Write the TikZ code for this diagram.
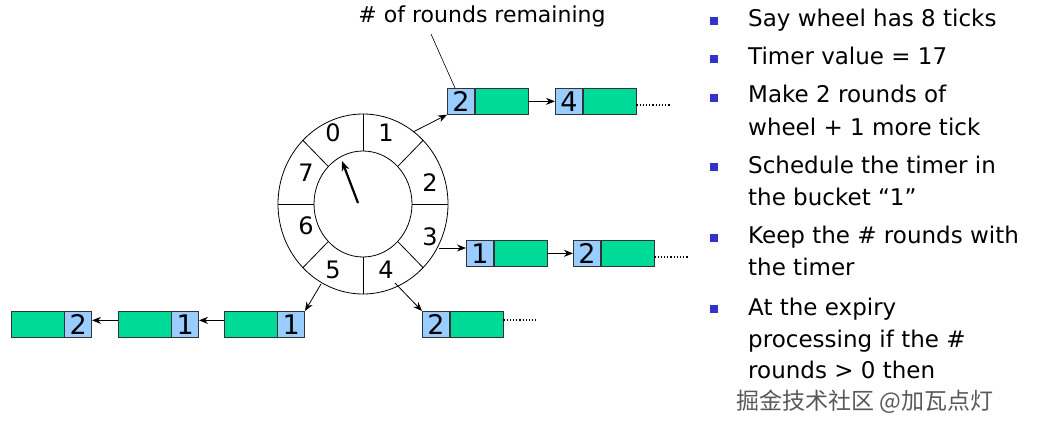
\documentclass[tikz,border=0pt]{standalone}
\usepackage{fontspec}
\setmainfont{DejaVu Sans}
\newfontfamily\cjk{Noto Sans CJK SC}
\usetikzlibrary{arrows.meta,calc}
\definecolor{ptrblue}{RGB}{153,204,255}
\definecolor{datagreen}{RGB}{0,218,152}
\definecolor{bulletblue}{RGB}{51,51,204}
\begin{document}
\begin{tikzpicture}[x=1pt,y=-1pt,
  pbox/.style={draw=black!80, line width=0.7pt, fill=ptrblue, minimum width=27pt, minimum height=26pt, inner sep=0pt, text height=20pt, text depth=0pt, font=\fontsize{27}{27}\selectfont},
  dbox/.style={draw=black!80, line width=0.7pt, fill=datagreen, minimum width=53pt, minimum height=26pt, inner sep=0pt},
  arr/.style={line width=0.8pt, -{Stealth[length=9pt,width=7pt]}},
  dots/.style={line width=1.2pt, dotted},
  wl/.style={font=\fontsize{24}{24}\selectfont, inner sep=0pt},
  txt/.style={font=\fontsize{23}{23}\selectfont, anchor=base west, inner sep=0pt},
  bul/.style={fill=bulletblue, minimum size=8.5pt, inner sep=0pt}
]
\useasboundingbox (0,0) rectangle (1037,431);
% wheel
\coordinate (c) at (363,204);
\draw[line width=0.8pt] (c) ellipse [x radius=85pt, y radius=90pt];
\draw[line width=0.8pt] (c) ellipse [x radius=49pt, y radius=53pt];
\foreach \a in {0,45,...,315}
  \draw[line width=0.8pt] ($(c)+(\a:49pt and 53pt)$) -- ($(c)+(\a:85pt and 90pt)$);
\node[wl] (n0) at (333,133) {0};
\node[wl] (n1) at (386,133) {1};
\node[wl] (n2) at (430,183) {2};
\node[wl] (n3) at (430,237) {3};
\node[wl] (n4) at (386,270) {4};
\node[wl] (n5) at (333,270) {5};
\node[wl] (n6) at (306,226) {6};
\node[wl] (n7) at (306,173) {7};
\coordinate (hs) at (358,203);
\coordinate (he) at (342,161);
\draw[line width=2.2pt, -{Stealth[length=10pt,width=8pt]}] (hs) -- (he);
% bucket 1 list
\node[pbox, anchor=north west] (a1p) at (447,88) {2};
\node[dbox, anchor=west] (a1d) at (a1p.east) {};
\node[pbox, anchor=north west] (a2p) at (555,88) {4};
\node[dbox, anchor=west] (a2d) at (a2p.east) {};
\coordinate (a2e) at (670,105);
\draw[dots] (a2d.east |- a2e) -- (a2e);
\coordinate (w1) at (413,132);
\draw[arr] (w1) -- (a1p.south west);
\draw[arr] (a1d.east) -- (a2p.west);
% label
\node[font=\fontsize{22}{22}\selectfont, inner sep=0pt] (lbl) at (482,16) {\# of rounds remaining};
\coordinate (ls) at (431,34);
\draw[line width=0.6pt] (ls) -- ([xshift=8pt]a1p.north west);
% bucket 3 list
\node[pbox, anchor=north west] (b1p) at (466,240) {1};
\node[dbox, anchor=west] (b1d) at (b1p.east) {};
\node[pbox, anchor=north west] (b2p) at (573,240) {2};
\node[dbox, anchor=west] (b2d) at (b2p.east) {};
\coordinate (b2e) at (688,257);
\draw[dots] (b2d.east |- b2e) -- (b2e);
\coordinate (w3) at (439,248);
\draw[arr] (w3) -- (b1p.west |- w3);
\draw[arr] (b1d.east) -- (b2p.west);
% bucket 4 list
\node[pbox, anchor=north west] (c1p) at (422,311) {2};
\node[dbox, anchor=west] (c1d) at (c1p.east) {};
\coordinate (c1e) at (536,320);
\draw[dots] (c1d.east |- c1e) -- (c1e);
\coordinate (w4) at (395,283);
\draw[arr] (w4) -- (c1p.north west);
% bucket 5 list
\node[pbox, anchor=north east] (d1p) at (305,311) {1};
\node[dbox, anchor=east] (d1d) at (d1p.west) {};
\node[pbox, anchor=north east] (d2p) at (199,311) {1};
\node[dbox, anchor=east] (d2d) at (d2p.west) {};
\node[pbox, anchor=north east] (d3p) at (92,311) {2};
\node[dbox, anchor=east] (d3d) at (d3p.west) {};
\coordinate (w5) at (321,284);
\draw[arr] (w5) -- (d1p.north east);
\draw[arr] ([yshift=4pt]d1d.west) -- ([yshift=4pt]d2p.east);
\draw[arr] ([yshift=4pt]d2d.west) -- ([yshift=4pt]d3p.east);
% bullets
\node[bul] (b1) at (714,21) {};
\node[bul] (b2) at (714,59) {};
\node[bul] (b3) at (714,98) {};
\node[bul] (b4) at (714,167) {};
\node[bul] (b5) at (714,238) {};
\node[bul] (b6) at (714,309) {};
\node[txt] (t1) at (748,27) {Say wheel has 8 ticks};
\node[txt] (t2) at (748,64) {Timer value = 17};
\node[txt] (t3) at (748,102) {Make 2 rounds of};
\node[txt] (t4) at (748,135) {wheel + 1 more tick};
\node[txt] (t5) at (748,173) {Schedule the timer in};
\node[txt] (t6) at (748,205) {the bucket “1”};
\node[txt] (t7) at (748,243) {Keep the \# rounds with};
\node[txt] (t8) at (748,275) {the timer};
\node[txt] (t9) at (748,315) {At the expiry};
\node[txt] (t10) at (748,347) {processing if the \#};
\node[txt] (t11) at (748,378) {rounds > 0 then};
\node[font=\cjk\fontsize{23}{23}\selectfont, anchor=base west, inner sep=0pt, text=black!65] (wm) at (736,409) {掘金技术社区 @加瓦点灯};
\end{tikzpicture}
\end{document}
